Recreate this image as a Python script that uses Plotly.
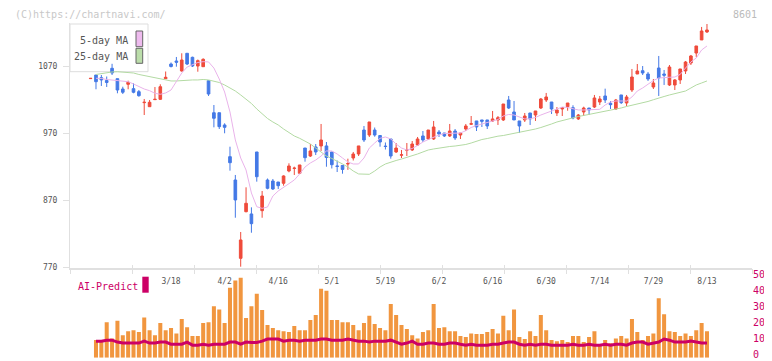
import plotly.graph_objects as go

# ---- data ----
day_index = list(range(-1, 115))
opens = [1051.6, 1057.0, 1053.0, 1048.8, 1067.0, 1051.5, 1036.1, 1043.1, 1036.6, 1032.1,
         1015.7, 1009.7, 1020.2, 1020.7, 1051.5, 1073.4, 1077.9, 1063.0, 1089.4, 1083.4,
         1070.4, 1069.4, 1048.5, 1000.7, 1000.7, 982.4, 935.1, 900.3, 783.4, 853.0,
         849.6, 942.1, 854.5, 900.3, 898.8, 897.3, 895.4, 913.7, 917.5, 910.3,
         948.0, 936.1, 949.6, 951.1, 951.1, 942.1, 921.2, 922.0, 924.2, 933.1,
         939.1, 974.9, 967.4, 974.9, 966.7, 950.9, 961.5, 942.1, 937.3, 944.8,
         945.1, 952.5, 966.0, 961.5, 961.5, 971.9, 970.4, 966.0, 973.4, 967.4,
         976.4, 983.6, 988.4, 989.9, 989.9, 988.4, 989.9, 989.9, 1019.7, 1001.8,
         988.4, 989.9, 1000.3, 997.3, 1007.7, 1019.7, 1016.7, 1000.3, 1006.3, 1009.7,
         1008.2, 991.4, 1001.8, 1007.7, 1009.2, 1016.7, 1025.7, 1014.8, 1006.3, 1027.2,
         1015.2, 1034.6, 1058.5, 1063.4, 1058.5, 1039.1, 1067.4, 1058.5, 1042.1, 1042.1,
         1049.6, 1063.0, 1074.9, 1089.8, 1109.3, 1121.2]
highs = [1052.0, 1057.0, 1057.0, 1054.8, 1073.7, 1051.5, 1039.5, 1048.5, 1044.6, 1034.6,
         1021.2, 1019.7, 1039.1, 1043.1, 1062.2, 1075.7, 1083.9, 1089.4, 1089.4, 1084.3,
         1080.1, 1081.9, 1048.5, 1012.2, 1000.7, 984.9, 950.0, 907.8, 822.7, 889.4,
         859.5, 942.1, 883.9, 902.5, 901.8, 897.3, 907.3, 925.2, 920.2, 922.7,
         948.0, 954.0, 954.0, 983.9, 957.0, 942.1, 929.4, 922.0, 932.1, 942.1,
         951.1, 980.9, 986.9, 978.6, 966.7, 956.3, 961.5, 955.5, 945.1, 955.5,
         958.5, 964.5, 973.4, 974.9, 988.4, 974.9, 970.4, 983.9, 976.4, 970.4,
         983.9, 995.8, 988.4, 989.9, 989.9, 1003.3, 995.8, 1013.7, 1025.7, 1018.2,
         988.4, 1000.3, 1000.3, 1003.3, 1022.7, 1030.2, 1016.7, 1009.2, 1008.2, 1015.2,
         1011.8, 998.8, 1009.7, 1007.7, 1027.2, 1025.7, 1036.6, 1018.2, 1021.2, 1027.2,
         1027.2, 1066.0, 1073.4, 1070.4, 1061.5, 1051.0, 1085.4, 1064.5, 1071.9, 1051.0,
         1066.0, 1077.9, 1086.9, 1100.3, 1128.7, 1133.1]
lows = [1051.6, 1035.7, 1040.6, 1039.1, 1057.0, 1029.7, 1028.6, 1035.7, 1029.7, 1024.6,
        997.3, 1009.7, 1019.7, 1019.7, 1051.5, 1068.2, 1069.4, 1061.9, 1071.9, 1068.9,
        1061.9, 1069.4, 1025.7, 978.9, 976.4, 970.0, 914.2, 844.0, 770.9, 852.1,
        821.6, 897.8, 844.0, 886.4, 885.4, 886.9, 891.8, 911.8, 907.8, 909.3,
        927.6, 934.6, 937.6, 943.6, 920.1, 917.5, 912.2, 909.7, 915.4, 929.4,
        936.1, 957.0, 964.5, 964.9, 950.0, 945.8, 932.1, 940.6, 933.1, 936.1,
        943.6, 951.1, 957.0, 960.0, 960.0, 964.5, 964.5, 964.5, 960.0, 961.5,
        973.4, 982.4, 973.4, 979.4, 976.4, 986.9, 982.4, 988.4, 1006.3, 989.9,
        970.4, 986.9, 982.4, 988.4, 1006.3, 1016.7, 998.8, 995.8, 995.8, 1003.7,
        990.9, 989.9, 995.8, 997.3, 1007.7, 1012.2, 1015.2, 1006.3, 1004.8, 1013.7,
        1010.7, 1031.6, 1058.5, 1057.0, 1048.1, 1036.1, 1025.7, 1042.1, 1040.6, 1034.6,
        1043.6, 1058.5, 1071.9, 1083.9, 1109.3, 1119.7]
closes = [1052.0, 1047.0, 1049.6, 1045.8, 1060.0, 1034.6, 1031.2, 1046.1, 1031.2, 1026.1,
          1016.3, 1016.3, 1020.7, 1039.5, 1053.6, 1069.7, 1076.0, 1079.4, 1073.4, 1070.4,
          1078.4, 1080.4, 1028.6, 992.4, 979.9, 978.9, 926.1, 870.5, 810.8, 865.5,
          835.1, 905.2, 876.4, 887.9, 886.9, 891.8, 906.3, 921.2, 918.0, 922.7,
          933.6, 943.6, 942.1, 960.0, 933.9, 923.1, 920.6, 916.0, 924.8, 939.1,
          951.1, 960.0, 986.9, 967.4, 957.0, 950.3, 936.1, 948.0, 937.9, 945.4,
          954.0, 961.5, 960.0, 974.9, 979.4, 968.9, 966.0, 973.4, 963.0, 970.4,
          980.9, 984.2, 979.4, 987.9, 980.9, 991.4, 993.3, 1013.7, 1007.7, 989.9,
          980.9, 995.8, 991.4, 1003.3, 1021.2, 1024.2, 1006.3, 1004.8, 1008.2, 1015.2,
          992.8, 997.3, 1007.7, 1004.8, 1022.7, 1021.2, 1019.7, 1012.7, 1019.7, 1015.7,
          1024.2, 1054.0, 1063.0, 1060.0, 1051.0, 1045.1, 1052.5, 1056.6, 1068.9, 1049.6,
          1066.0, 1076.4, 1085.4, 1100.3, 1122.7, 1124.2]

bar_index = list(range(0, 115))
ma5 = [1052.1, 1051.8, 1050.3, 1049.6, 1048.8, 1048.1, 1047.0, 1043.6, 1039.5, 1036.1,
       1033.6, 1029.7, 1028.2, 1030.2, 1034.6, 1046.6, 1060.0, 1068.9, 1071.9, 1075.7,
       1076.9, 1076.5, 1067.4, 1051.0, 1031.6, 1001.8, 960.0, 933.1, 915.2, 880.9,
       860.4, 858.0, 860.0, 876.4, 883.9, 889.8, 894.3, 900.3, 909.3, 919.7,
       925.7, 930.1, 936.1, 943.6, 943.6, 939.1, 933.1, 927.2, 924.2, 924.2,
       933.1, 948.0, 955.5, 962.5, 964.5, 961.5, 954.0, 948.0, 945.1, 947.3,
       951.8, 957.0, 960.7, 964.5, 967.4, 969.7, 970.0, 969.4, 970.4, 973.9,
       978.6, 981.6, 983.9, 986.1, 987.6, 990.6, 995.8, 998.1, 997.3, 993.9,
       991.4, 991.6, 993.6, 997.3, 1000.3, 1004.0, 1006.3, 1009.2, 1008.5, 1006.3,
       1004.8, 1004.8, 1004.8, 1005.5, 1005.8, 1012.2, 1016.7, 1018.2, 1018.2, 1018.2,
       1024.2, 1033.1, 1037.6, 1043.6, 1048.8, 1052.5, 1053.6, 1053.6, 1054.0, 1057.8,
       1067.4, 1076.4, 1082.4, 1094.3, 1100.3]
ma25 = [1057.8, 1059.3, 1060.4, 1061.5, 1061.9, 1061.5, 1060.7, 1060.0, 1057.8, 1056.3,
        1054.8, 1052.5, 1051.0, 1049.6, 1048.1, 1048.1, 1048.8, 1048.8, 1049.6, 1049.6,
        1050.3, 1049.6, 1048.1, 1045.8, 1042.1, 1037.6, 1033.1, 1027.2, 1021.2, 1014.5,
        1006.3, 999.6, 992.1, 986.9, 982.4, 976.4, 971.2, 966.0, 962.5, 958.5,
        954.0, 948.0, 942.1, 936.1, 932.4, 928.7, 924.2, 919.7, 913.7, 909.3,
        908.8, 908.8, 913.7, 919.7, 924.2, 927.2, 929.4, 931.6, 933.9, 936.1,
        939.1, 942.1, 945.1, 946.6, 948.0, 949.5, 950.3, 951.0, 951.8, 953.3,
        955.5, 958.5, 960.7, 962.2, 964.5, 965.7, 966.7, 968.2, 969.7, 971.2,
        972.7, 974.2, 976.4, 978.6, 980.9, 983.9, 986.9, 989.1, 991.4, 993.6,
        995.1, 996.6, 998.1, 999.6, 1001.3, 1002.5, 1004.0, 1005.8, 1007.8, 1010.0,
        1011.8, 1013.7, 1015.2, 1017.5, 1020.1, 1023.0, 1024.9, 1027.2, 1029.4, 1030.9,
        1033.1, 1037.6, 1042.1, 1045.1, 1048.1]
volume = [11, 10, 22, 12, 23, 14, 16.5, 17, 16, 25,
          17, 14, 21.5, 17, 18.5, 15, 24, 19, 13.5, 13.5,
          21.5, 22, 32, 30, 21.5, 43.5, 48, 49.7, 24.7, 32,
          39.7, 29.7, 20.3, 18.5, 17, 16.5, 16, 19.7, 17, 17,
          23.5, 26.5, 42.8, 41.6, 23.5, 23.5, 22, 22, 20.3, 17,
          21.5, 26, 21, 18.5, 17, 33.4, 26.5, 20.3, 17.8, 14,
          12, 16, 17, 33.4, 18.5, 19, 16.5, 16.5, 13.5, 12.8,
          15, 14.7, 14.7, 16, 17.8, 15, 26, 17, 30, 12.8,
          11.6, 16.5, 13.5, 26.5, 17, 11, 10.3, 11, 9.7, 13.5,
          13.5, 9.7, 12.8, 16.5, 7.8, 11, 9, 12, 13.5, 12,
          24, 16, 11, 13.5, 15, 37, 27, 16.5, 16, 13.5,
          15, 13.5, 17, 21.5, 16.5]
ai_predict = [10.3, 10.3, 10.9, 10.9, 9.7, 9.1, 9.1, 9.1, 9.1, 10.3,
              9.1, 9.1, 9.7, 9.7, 8.4, 8.4, 8.4, 9.7, 7.8, 7.8,
              8.4, 7.8, 8.4, 8.4, 8.4, 9.7, 9.7, 8.4, 9.7, 9.5,
              9.5, 10.3, 11.6, 11.6, 11.6, 10.3, 10.9, 10.9, 10.3, 10.9,
              10.9, 10.9, 11.6, 11.6, 10.9, 10.9, 10.9, 11.6, 10.9, 10.3,
              10.3, 9.7, 10.3, 10.3, 10.3, 10.9, 9.7, 8.4, 9.1, 10.3,
              8.4, 8.4, 9.1, 9.1, 8.4, 8.4, 9.1, 9.1, 8.4, 7.8,
              8.4, 7.8, 7.8, 7.8, 8.4, 8.4, 9.1, 9.7, 9.7, 8.4,
              7.8, 8.4, 7.8, 8.4, 8.4, 7.8, 7.8, 7.8, 7.8, 8.4,
              7.8, 7.8, 8.4, 7.8, 7.8, 8.4, 7.8, 8.4, 8.4, 7.8,
              9.1, 9.7, 9.7, 8.4, 9.1, 9.7, 11.6, 10.9, 9.7, 9.7,
              9.7, 10.3, 9.7, 9.1, 9.1]

date_tick_index = [14, 24, 34, 44, 54, 64, 74, 84, 94, 104, 114]
date_tick_text = ["3/18", "4/2", "4/16", "5/1", "5/19", "6/2", "6/16", "6/30", "7/14", "7/29", "8/13"]
price_ticks = [770, 870, 970, 1070]
volume_ticks = [0, 10, 20, 30, 40, 50]

# ---- styling ----
# the page body has an 8px default margin, so the figure is made 8px smaller
OFF = 8
WIN_W, WIN_H = 772, 361
W, H = WIN_W - OFF, WIN_H - OFF
PLOT_L, PLOT_R = 70, 752          # plot edges in window pixels
ML = PLOT_L - OFF
MR = W - (PLOT_R - OFF)
PW = W - ML - MR
FONT = "DejaVu Sans Mono"
RED = "#ef4b3b"
BLUE = "#4479e6"
PINK = "#e9b3ea"
GREEN = "#b3daa3"
ORANGE = "#f1963f"
CRIMSON = "#cc0066"
AXC = "#e0e0e0"


def px_x(p):
    return (p - PLOT_L) / PW


def px_y(p):
    return (WIN_H - p) / H


fig = go.Figure()

fig.add_trace(go.Scatter(x=bar_index, y=ma25, mode="lines", line=dict(color=GREEN, width=1),
                         xaxis="x", yaxis="y", hoverinfo="skip"))
fig.add_trace(go.Scatter(x=bar_index, y=ma5, mode="lines", line=dict(color=PINK, width=1),
                         xaxis="x", yaxis="y", hoverinfo="skip"))
fig.add_trace(go.Candlestick(
    x=day_index, open=opens, high=highs, low=lows, close=closes,
    increasing=dict(line=dict(color=RED, width=1), fillcolor=RED),
    decreasing=dict(line=dict(color=BLUE, width=1), fillcolor=BLUE),
    whiskerwidth=0, xaxis="x", yaxis="y"))

fig.add_trace(go.Bar(x=bar_index, y=volume, marker=dict(color=ORANGE, line=dict(width=0)),
                     xaxis="x4", yaxis="y2"))
fig.add_trace(go.Scatter(x=bar_index, y=ai_predict, mode="lines",
                         line=dict(color=CRIMSON, width=3), xaxis="x4", yaxis="y2"))

# invisible helper traces so the tick-only overlay axes are drawn
fig.add_trace(go.Scatter(x=[0, 11], y=[800, 800], xaxis="x2", yaxis="y", mode="markers",
                         marker=dict(opacity=0), hoverinfo="skip"))
fig.add_trace(go.Scatter(x=[0, 11], y=[800, 800], xaxis="x3", yaxis="y", mode="markers",
                         marker=dict(opacity=0), hoverinfo="skip"))

xr = [-4.85, 122.4]
fig.update_layout(
    width=W, height=H,
    margin=dict(l=ML, r=MR, t=0, b=0, pad=0, autoexpand=False),
    paper_bgcolor="white", plot_bgcolor="white",
    showlegend=False,
    font=dict(family=FONT, size=8, color="#555"),
    bargap=0.25, boxgap=0.3,
    xaxis=dict(domain=[0, 1], range=xr, anchor="y", tickmode="array", automargin=False,
               tickvals=date_tick_index, ticktext=date_tick_text, ticks="",
               ticklabelstandoff=5,
               tickfont=dict(family=FONT, size=8, color="#555"),
               showline=True, linewidth=2, linecolor=AXC, showgrid=False,
               zeroline=False, rangeslider=dict(visible=False), fixedrange=True),
    xaxis2=dict(overlaying="x", anchor="y", range=[0, 11], dtick=1, tick0=0, automargin=False,
                ticks="outside", ticklen=5, tickwidth=1, tickcolor=AXC,
                showticklabels=False, showline=False, showgrid=False, zeroline=False),
    xaxis3=dict(overlaying="x", anchor="y", range=[0, 11], dtick=1, tick0=0, automargin=False,
                ticks="inside", ticklen=3, tickwidth=1, tickcolor=AXC,
                showticklabels=False, showline=False, showgrid=False, zeroline=False),
    xaxis4=dict(domain=[0, 1], anchor="y2", matches="x", visible=False, automargin=False,
                rangeslider=dict(visible=False)),
    yaxis=dict(domain=[px_y(267.5), px_y(23)], range=[769.7, 1134.6], anchor="x",
               tickmode="array", tickvals=price_ticks, ticks="outside", ticklen=6,
               tickwidth=1, tickcolor=AXC, ticklabelstandoff=4, automargin=False,
               tickfont=dict(family=FONT, size=8, color="#555"),
               showline=True, linewidth=1, linecolor=AXC, showgrid=False, zeroline=False),
    yaxis2=dict(domain=[px_y(357.7), px_y(270.5)], range=[0, 54.2], anchor="x4",
                side="right", tickmode="array", tickvals=volume_ticks, ticks="",
                ticklabelstandoff=0, ticklabelshift=-3, automargin=False,
                ticklabeloverflow="allow",
                tickfont=dict(family=FONT, size=10, color=CRIMSON),
                showline=False, showgrid=False, zeroline=False),
)

shapes = [
    dict(type="rect", xref="paper", yref="paper", x0=px_x(70), x1=px_x(148),
         y0=px_y(71.7), y1=px_y(24), fillcolor="white", line=dict(color="#dddddd", width=1),
         layer="below"),
    dict(type="rect", xref="paper", yref="paper", x0=px_x(136), x1=px_x(142.7),
         y0=px_y(46.7), y1=px_y(31), fillcolor="#eebbee", line=dict(color="#666", width=1)),
    dict(type="rect", xref="paper", yref="paper", x0=px_x(136), x1=px_x(142.7),
         y0=px_y(63.3), y1=px_y(48.3), fillcolor="#bbddaa", line=dict(color="#666", width=1)),
    dict(type="rect", xref="paper", yref="paper", x0=px_x(142.3), x1=px_x(148.7),
         y0=px_y(292.7), y1=px_y(276.7), fillcolor=CRIMSON, line=dict(width=0)),
]
annotations = [
    dict(text="5-day MA", xref="paper", yref="paper", x=px_x(130), y=px_y(40),
         xanchor="right", yanchor="middle", showarrow=False,
         font=dict(family=FONT, size=10, color="#555")),
    dict(text="25-day MA", xref="paper", yref="paper", x=px_x(130), y=px_y(56.5),
         xanchor="right", yanchor="middle", showarrow=False,
         font=dict(family=FONT, size=10, color="#555")),
    dict(text="AI-Predict", xref="paper", yref="paper", x=px_x(75.5), y=px_y(286),
         xanchor="left", yanchor="middle", showarrow=False,
         font=dict(family=FONT, size=10, color=CRIMSON)),
    dict(text="(C)https://chartnavi.com/", xref="paper", yref="paper", x=px_x(13.5),
         y=px_y(14.5), xanchor="left", yanchor="middle", showarrow=False, borderpad=0,
         font=dict(family=FONT, size=10, color="#c8c8c8")),
    dict(text="8601", xref="paper", yref="paper", x=px_x(757.5), y=px_y(14.5),
         xanchor="right", yanchor="middle", showarrow=False, borderpad=0,
         font=dict(family=FONT, size=10, color="#bbbbbb")),
]
fig.update_layout(shapes=shapes, annotations=annotations)

fig.write_html("out.html")
